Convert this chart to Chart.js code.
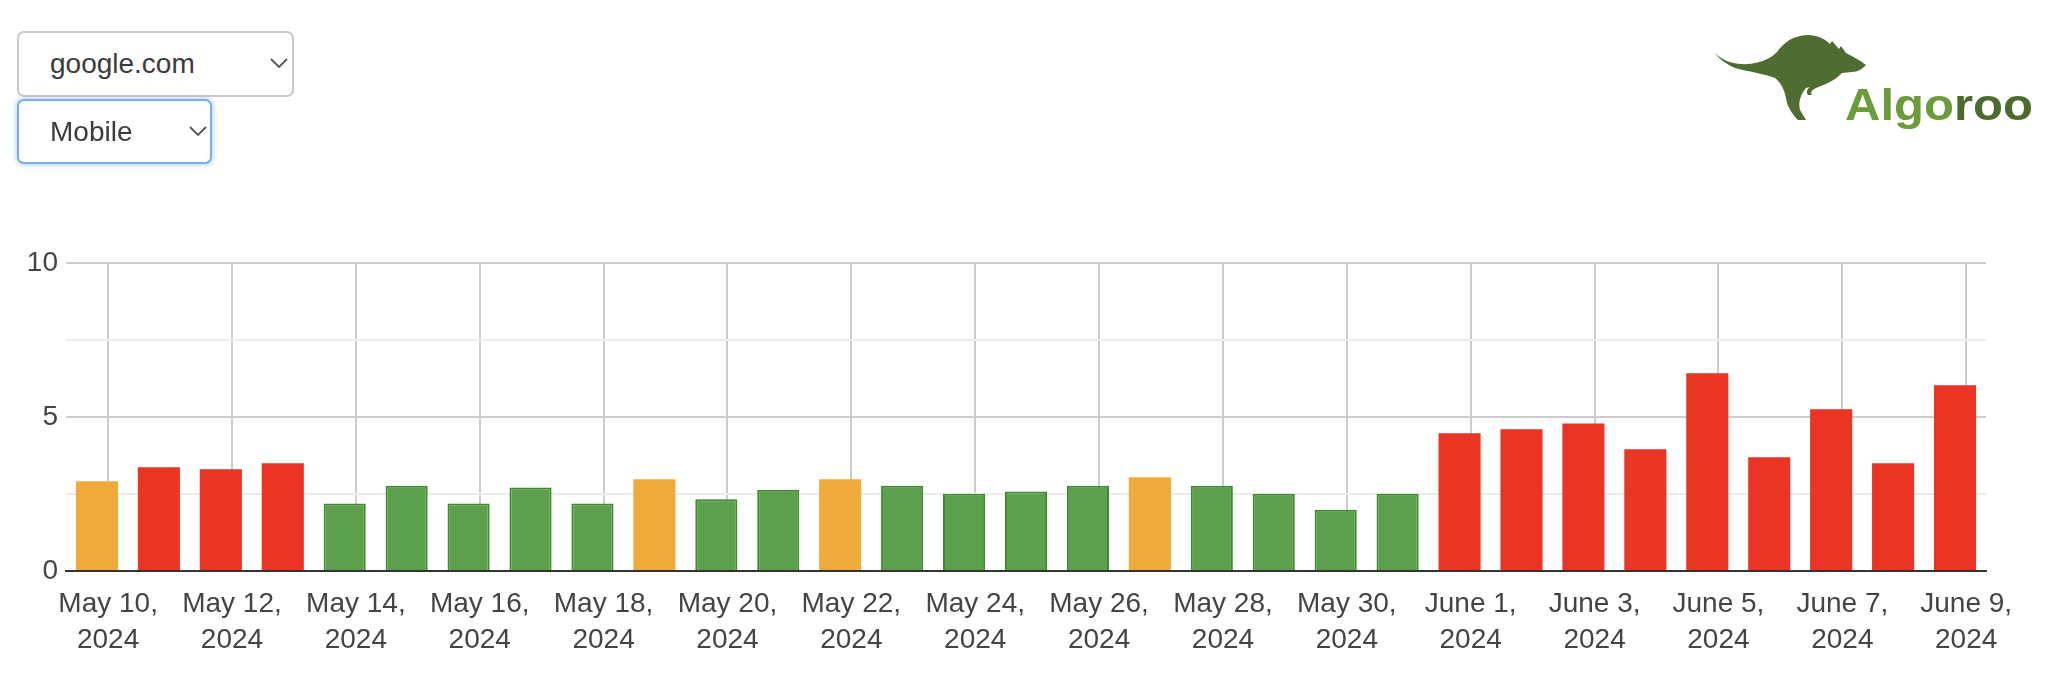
<!DOCTYPE html>
<html>
<head>
<meta charset="utf-8">
<script src="https://cdn.jsdelivr.net/npm/chart.js@4.4.1/dist/chart.umd.min.js"></script>
<style>
  html, body { margin: 0; padding: 0; background: #fff; }
  body { width: 2052px; height: 688px; position: relative; overflow: hidden; font-family: "Liberation Sans", Arial, sans-serif; }
  #mychart { position: absolute; left: 0; top: 0; }
  .sel { position: absolute; box-sizing: border-box; border: 2px solid #c9c9c9; border-radius: 7px; background: #fff;
         font-size: 28px; color: #3b3b3b; padding-left: 31px; display: flex; align-items: center; }
  .sel svg { position: absolute; top: 50%; margin-top: -6px; }
  .sel.focus { border-color: #78aee9; box-shadow: 0 0 5px 1px rgba(120, 170, 233, 0.55); }
  #logo { position: absolute; left: 1680px; top: 0; }
</style>
</head>
<body>
<canvas id="mychart" width="2052" height="688"></canvas>

<div class="sel" style="left:17px;top:31px;width:277px;height:66px">google.com
  <svg style="left:251px" width="18" height="11"><polyline points="1,1 9,9 17,1" fill="none" stroke="#555" stroke-width="1.8"/></svg>
</div>
<div class="sel focus" style="left:17px;top:99px;width:195px;height:65px">Mobile
  <svg style="left:170px" width="18" height="11"><polyline points="1,1 9,9 17,1" fill="none" stroke="#555" stroke-width="1.8"/></svg>
</div>

<svg id="logo" width="372" height="150">
  <path fill="#4f6c33" d="M35,53 C42,60 50,63 60,64 C75,65 90,60 97,52 C103,44 110,38 120,36 C132,33 143,37 150,44 L152,41 L159,49 L161,46 L166,53 C174,57 181,61 186,65 C182,69 178,72 172,72 L162,73 C158,77 154,80 148,83 L136,88 C132,90 130,92 132,95 L128,95 C126,92 127,89 130,87 L126,88 C121,94 118,101 120,110 L126,120 L118,120 C112,114 107,106 106,98 C104,88 100,82 95,78 C85,74 70,72 55,68 C46,64 39,59 35,53 Z"/>
  <text x="165" y="120" font-family="Liberation Sans, Arial, sans-serif" font-weight="bold" font-size="45" textLength="188" lengthAdjust="spacingAndGlyphs"><tspan fill="#6b9c3c">Algo</tspan><tspan fill="#4b6c2e">roo</tspan></text>
</svg>

<script>
// one bar per day, May 10 - June 9 2024
const days = [
  'May 10, 2024','May 11, 2024','May 12, 2024','May 13, 2024','May 14, 2024','May 15, 2024','May 16, 2024',
  'May 17, 2024','May 18, 2024','May 19, 2024','May 20, 2024','May 21, 2024','May 22, 2024','May 23, 2024',
  'May 24, 2024','May 25, 2024','May 26, 2024','May 27, 2024','May 28, 2024','May 29, 2024','May 30, 2024',
  'May 31, 2024','June 1, 2024','June 2, 2024','June 3, 2024','June 4, 2024','June 5, 2024','June 6, 2024',
  'June 7, 2024','June 8, 2024','June 9, 2024'
];
const values = [
  2.91, 3.37, 3.30, 3.50, 2.19, 2.77, 2.19, 2.71, 2.19, 2.98, 2.33,
  2.64, 2.98, 2.77, 2.51, 2.58, 2.77, 3.04, 2.77, 2.51, 1.99, 2.51,
  4.47, 4.60, 4.79, 3.95, 6.42, 3.69, 5.25, 3.50, 6.03
];
const status = [
  'ok', 'bad', 'bad', 'bad', 'good', 'good', 'good', 'good', 'good', 'ok', 'good',
  'good', 'ok', 'good', 'good', 'good', 'good', 'ok', 'good', 'good', 'good', 'good',
  'bad', 'bad', 'bad', 'bad', 'bad', 'bad', 'bad', 'bad', 'bad'
];
const yTicks = [0, 5, 10];

const fill = { good: '#5c9f4d', ok: '#f0aa3c', bad: '#ea3424' };
const stroke = { good: '#3f8a30', ok: '#f0aa3c', bad: '#ea3424' };

Chart.defaults.font.family = '"Liberation Sans", Arial, sans-serif';

const labelShift = 0.18; // date gridlines sit a bit right of the bar centres

const ctx = document.getElementById('mychart').getContext('2d');
new Chart(ctx, {
  type: 'bar',
  data: {
    labels: days,
    datasets: [{
      data: values,
      backgroundColor: status.map(s => fill[s]),
      borderColor: status.map(s => stroke[s]),
      borderWidth: status.map(s => s === 'good' ? 2 : 0),
      barPercentage: 0.68,
      categoryPercentage: 1
    }]
  },
  options: {
    responsive: false,
    animation: false,
    layout: { padding: { top: 263, right: 66, left: 0, bottom: 0 } },
    plugins: { legend: { display: false }, tooltip: { enabled: false } },
    scales: {
      x: { display: false, offset: true },
      xd: {
        type: 'linear',
        position: 'bottom',
        offset: false,
        min: -0.5,
        max: days.length - 0.5,
        afterBuildTicks: function(scale) {
          const t = [];
          for (let i = 0; i < days.length; i += 2) t.push({ value: i + labelShift });
          scale.ticks = t;
        },
        afterFit: function(scale) { scale.height = 117; },
        grid: { color: '#cccccc', lineWidth: 2, drawTicks: false, offset: false },
        border: { color: '#333333', width: 2 },
        ticks: {
          padding: 15,
          autoSkip: false,
          maxRotation: 0,
          color: '#444444',
          font: { size: 28, lineHeight: 1.29 },
          callback: function(v) {
            const d = days[Math.round(v - labelShift)];
            const p = d.split(', ');
            return [p[0] + ',', p[1]];
          }
        }
      },
      y: {
        min: 0,
        max: 10,
        afterFit: function(scale) { scale.width = 66; },
        grid: {
          color: c => yTicks.includes(c.tick.value) ? '#cccccc' : '#ebebeb',
          lineWidth: 2,
          drawTicks: false
        },
        border: { display: false },
        ticks: {
          stepSize: 2.5,
          padding: 8,
          color: '#444444',
          font: { size: 28 },
          callback: v => yTicks.includes(v) ? v : ''
        }
      }
    }
  }
});
</script>
</body>
</html>
